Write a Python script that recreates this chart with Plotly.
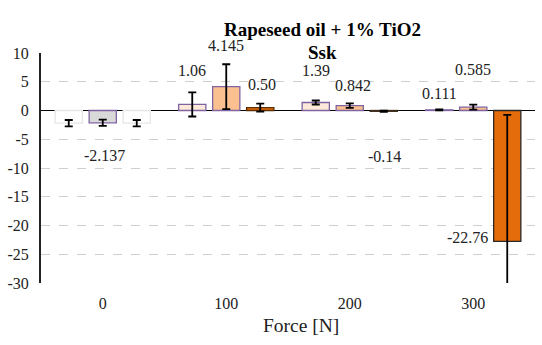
import plotly.graph_objects as go

categories = ["0", "100", "200", "300"]
s1_values = [-2.2, 1.06, 1.39, 0.111]
s2_values = [-2.137, 4.145, 0.842, 0.585]
s3_values = [-2.2, 0.50, -0.14, -22.76]
s1_err = [0.55, 2.1, 0.35, 0.1]
s2_err = [0.55, 3.9, 0.4, 0.42]
s3_err = [0.55, 0.7, 0.1, 22.0]
s1_labels = ["", "1.06", "1.39", "0.111"]
s2_labels = ["-2.137", "4.145", "0.842", "0.585"]
s3_labels = ["", "0.50", "-0.14", "-22.76"]
y_ticks = [10, 5, 0, -5, -10, -15, -20, -25, -30]
y_tick_text = ["10", "5", "0", "-5", "-10", "-15", "-20", "-25", "-30"]

# styles
s1_fill = ["#ffffff", "#fde9d9", "#fde9d9", "#e8e0f0"]
s1_line = ["#e6e6e6", "#8064a2", "#8064a2", "#8064a2"]
s2_fill = ["#d9d9d9", "#fac090", "#fac090", "#fac090"]
s2_line = ["#8064a2", "#8064a2", "#8064a2", "#8064a2"]
s3_fill = ["#ffffff", "#e46c0a", "#e46c0a", "#e46c0a"]
s3_line = ["#e6e6e6", "#5a2d05", "#3a2a1a", "#2a2a2a"]

FONT = "Times New Roman, Liberation Serif, serif"
W, H = 542, 345
ML, MR, MT, MB = 41, 7, 53, 62
BARGAP = 0.174
BARGROUPGAP = 0.2

fig = go.Figure()
series = [
    (s1_values, s1_err, s1_fill, s1_line),
    (s2_values, s2_err, s2_fill, s2_line),
    (s3_values, s3_err, s3_fill, s3_line),
]
for vals, errs, fill, line in series:
    fig.add_trace(go.Bar(
        x=categories, y=vals,
        marker=dict(color=fill, line=dict(color=line, width=1.3)),
        error_y=dict(type="data", array=errs, visible=True,
                     color="black", thickness=1.8, width=4),
        showlegend=False,
    ))

# label placement (pixel offsets from the bar's value point)
plot_w = W - ML - MR
slot_px = plot_w / len(categories) * (1 - BARGAP) / 3
label_dy = {
    0: [0, 34, 32, 16],
    1: [-33, 41, 20, 38],
    2: [0, 23, -45, 4],
}
label_dx = {0: [0, 0, 0, 0], 1: [2, 0, 3, 0], 2: [0, 2, 1, -40]}
all_values = [s1_values, s2_values, s3_values]
for si, labels in enumerate([s1_labels, s2_labels, s3_labels]):
    for ci, txt in enumerate(labels):
        if not txt:
            continue
        fig.add_annotation(
            x=ci, y=all_values[si][ci], text=txt, showarrow=False,
            xshift=(si - 1) * slot_px + label_dx[si][ci],
            yshift=label_dy[si][ci],
            font=dict(family=FONT, size=16, color="#222222"),
        )

fig.add_annotation(
    x=0.526, y=-0.183, xref="paper", yref="paper", text="Force [N]",
    showarrow=False, font=dict(family=FONT, size=19.5, color="#222222"),
    yanchor="middle",
)
fig.add_annotation(
    x=0.569, y=1.157, xref="paper", yref="paper", text="<b>Rapeseed oil + 1% TiO2</b>",
    showarrow=False, font=dict(family=FONT, size=19, color="black"),
)
fig.add_annotation(
    x=0.569, y=1.057, xref="paper", yref="paper", text="<b>Ssk</b>",
    showarrow=False, font=dict(family=FONT, size=19, color="black"),
)

fig.update_layout(
    width=W, height=H,
    margin=dict(l=ML, r=MR, t=MT, b=MB),
    paper_bgcolor="white", plot_bgcolor="white",
    barmode="group", bargap=BARGAP, bargroupgap=BARGROUPGAP,
    font=dict(family=FONT, size=16, color="#222222"),
    xaxis=dict(type="category", range=[-0.5, len(categories) - 0.5],
               showgrid=False, showline=False, ticks="", zeroline=False,
               ticklabelstandoff=9,
               tickfont=dict(family=FONT, size=16)),
    yaxis=dict(range=[-30, 10], tickmode="array", tickvals=y_ticks, ticktext=y_tick_text,
               showgrid=True, gridcolor="#cfcfcf",
               griddash="dash", gridwidth=1, zeroline=True, zerolinecolor="black",
               zerolinewidth=1.3, showline=True, linecolor="#222222", linewidth=2,
               ticks="", ticklen=0, ticklabelstandoff=7,
               tickfont=dict(family=FONT, size=16)),
)

fig.write_html("out.html")
